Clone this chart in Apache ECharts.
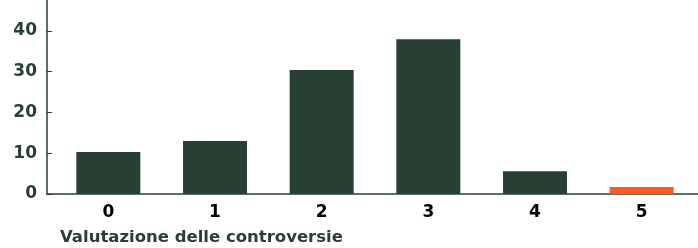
<!DOCTYPE html>
<html>
<head>
<meta charset="utf-8">
<script src="https://cdn.jsdelivr.net/npm/echarts@6/dist/echarts.min.js"></script>
<style>
  html, body { margin: 0; padding: 0; background: #fff; }
  #main { width: 698px; height: 248px; }
</style>
</head>
<body>
<div id="main"></div>
<script>
// controversy rating -> count
const categories = ['0', '1', '2', '3', '4', '5'];
const values = [10.3, 13.0, 30.4, 38.0, 5.6, 1.7];
const highlight = '5';
const yTicks = [0, 10, 20, 30, 40];

const green = '#283f33';
const orange = '#ff5a1f';
const font = 'DejaVu Sans';

var myChart = echarts.init(document.getElementById('main'));

myChart.setOption({
  backgroundColor: '#fff',
  animation: false,
  title: {
    text: 'Valutazione delle controversie',
    left: 60,
    top: 229,
    padding: 0,
    textStyle: { color: green, fontFamily: font, fontWeight: 'bold', fontSize: 16.5 }
  },
  grid: [
    // axes frame
    { left: 47, right: 0, top: 0, bottom: 54 },
    // bars
    { left: 55, right: 3, top: 0, bottom: 54 }
  ],
  xAxis: [
    {
      gridIndex: 0, type: 'category', data: [''],
      axisLine: { lineStyle: { color: green, width: 1.5 } },
      axisTick: { show: false }, axisLabel: { show: false }
    },
    {
      gridIndex: 1, type: 'category', data: categories,
      axisLine: { show: false }, axisTick: { show: false },
      axisLabel: { color: '#000', fontFamily: font, fontWeight: 'bold', fontSize: 17, margin: 10 }
    }
  ],
  yAxis: [
    {
      gridIndex: 0, type: 'value', min: 0, max: 47.6,
      axisLine: { show: true, lineStyle: { color: green, width: 1.5 } },
      axisTick: { show: true, inside: true, length: 5, customValues: yTicks, lineStyle: { color: green } },
      splitLine: { show: false },
      axisLabel: {
        color: green, fontFamily: font, fontWeight: 'bold', fontSize: 17, margin: 10,
        customValues: yTicks
      }
    },
    {
      gridIndex: 1, type: 'value', min: 0, max: 47.6,
      show: false
    }
  ],
  series: [{
    type: 'bar',
    xAxisIndex: 1,
    yAxisIndex: 1,
    barWidth: '60%',
    data: values.map((v, i) => ({
      value: v,
      itemStyle: { color: categories[i] === highlight ? orange : green }
    }))
  }]
});
</script>
</body>
</html>
